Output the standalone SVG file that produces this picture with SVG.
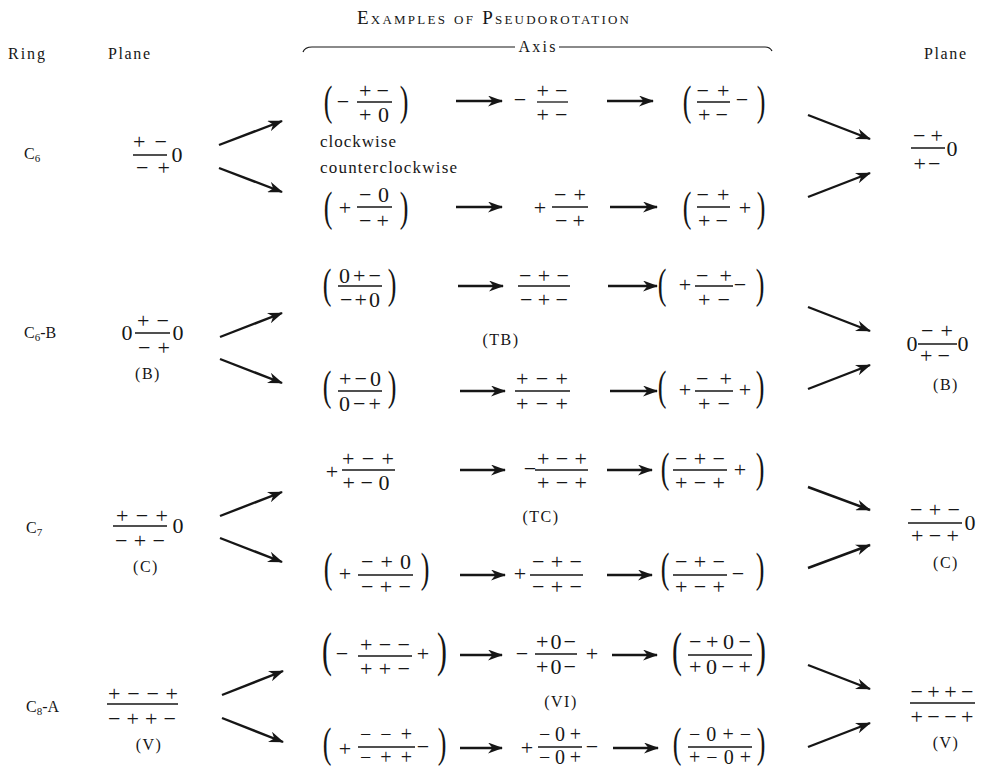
<svg xmlns="http://www.w3.org/2000/svg" width="983" height="769" viewBox="0 0 983 769">
<style>
text{font-family:"Liberation Serif","Times New Roman",serif;fill:#161616}
.s{font-size:22px;text-anchor:middle}
.s2{font-size:20px;text-anchor:middle}
.l{font-size:16px}
.lc{font-size:16px;text-anchor:middle;letter-spacing:1.5px}
.p{font-size:42px;text-anchor:middle}
.pb{font-size:48px;text-anchor:middle}
.bar{stroke:#161616;stroke-width:1.3}
.ar{stroke:#161616;stroke-width:2.4;fill:none;marker-end:url(#ah)}
</style>
<defs>
<marker id="ah" markerUnits="userSpaceOnUse" viewBox="0 0 15 11" refX="14" refY="5.5" markerWidth="15" markerHeight="11" orient="auto">
<path d="M0,0 L15,5.5 L0,11 L4.5,5.5 z" fill="#161616"/>
</marker>
</defs>
<rect width="983" height="769" fill="#fff"/>

<g id="header">
<text x="493" y="24" style="font-size:19px;font-variant:small-caps;text-anchor:middle" textLength="272">Examples of Pseudorotation</text>
<text class="l" x="8" y="59" textLength="37">Ring</text>
<text class="l" x="108" y="59" textLength="42">Plane</text>
<text class="l" x="924" y="59" textLength="42">Plane</text>
<path d="M303,52 Q305,47 312,47 L515,47 M559,47 L765,47 Q770,47 772,51" fill="none" stroke="#161616" stroke-width="1.2"/>
<text x="537" y="52" style="font-size:16px;text-anchor:middle" textLength="37">Axis</text>
</g>

<g id="connectors">
<line class="ar" x1="219" y1="145" x2="282" y2="121"/>
<line class="ar" x1="219" y1="168" x2="282" y2="192"/>
<line class="ar" x1="456" y1="101" x2="502" y2="101"/>
<line class="ar" x1="607" y1="101" x2="653" y2="101"/>
<line class="ar" x1="456" y1="207" x2="502" y2="207"/>
<line class="ar" x1="610" y1="207" x2="657" y2="207"/>
<line class="ar" x1="808" y1="115" x2="870" y2="139"/>
<line class="ar" x1="808" y1="197" x2="870" y2="173"/>
<line class="ar" x1="220" y1="337" x2="282" y2="313"/>
<line class="ar" x1="220" y1="359" x2="282" y2="383"/>
<line class="ar" x1="458" y1="286" x2="503" y2="286"/>
<line class="ar" x1="608" y1="286" x2="657" y2="286"/>
<line class="ar" x1="460" y1="391" x2="505" y2="391"/>
<line class="ar" x1="610" y1="391" x2="657" y2="391"/>
<line class="ar" x1="808" y1="307" x2="870" y2="331"/>
<line class="ar" x1="808" y1="389" x2="870" y2="365"/>
<line class="ar" x1="220" y1="516" x2="282" y2="492"/>
<line class="ar" x1="220" y1="538" x2="282" y2="562"/>
<line class="ar" x1="460" y1="470" x2="505" y2="470"/>
<line class="ar" x1="607" y1="470" x2="652" y2="470"/>
<line class="ar" x1="460" y1="575" x2="505" y2="575"/>
<line class="ar" x1="607" y1="575" x2="652" y2="575"/>
<line class="ar" x1="808" y1="487" x2="870" y2="510"/>
<line class="ar" x1="808" y1="568" x2="870" y2="545"/>
<line class="ar" x1="222" y1="695" x2="283" y2="671"/>
<line class="ar" x1="222" y1="718" x2="283" y2="742"/>
<line class="ar" x1="460" y1="655" x2="502" y2="655"/>
<line class="ar" x1="612" y1="655" x2="657" y2="655"/>
<line class="ar" x1="460" y1="748" x2="502" y2="748"/>
<line class="ar" x1="613" y1="748" x2="658" y2="748"/>
<line class="ar" x1="808" y1="665" x2="870" y2="689"/>
<line class="ar" x1="808" y1="747" x2="870" y2="723"/>
</g>

<!-- ================= C6 ================= -->
<g id="ring-c6"><text class="l" x="24" y="159">C<tspan font-size="11" dy="3">6</tspan></text></g>
<g id="c6-plane">
<text class="s" x="150" y="149" textLength="34">+−</text>
<line class="bar" x1="133" y1="155" x2="167" y2="155"/>
<text class="s" x="153" y="175" textLength="34">−+</text>
<text class="s" x="177" y="162">0</text>
</g>
<g id="c6-up-1">
<text class="p" transform="translate(328 115) scale(0.62 1)">(</text>
<text class="s" x="343" y="109">−</text>
<text class="s" x="374" y="98" textLength="30">+−</text>
<line class="bar" x1="357" y1="102" x2="392" y2="102"/>
<text class="s" x="374" y="122" textLength="30">+0</text>
<text class="p" transform="translate(404 115) scale(0.62 1)">)</text>
</g>
<g id="c6-up-2">
<text class="s" x="520" y="107">−</text>
<text class="s" x="552" y="98" textLength="31">+−</text>
<line class="bar" x1="537" y1="102" x2="568" y2="102"/>
<text class="s" x="552" y="122" textLength="31">+−</text>
</g>
<g id="c6-up-3">
<text class="p" transform="translate(687 115) scale(0.62 1)">(</text>
<text class="s" x="713" y="98" textLength="33">−+</text>
<line class="bar" x1="697" y1="102" x2="730" y2="102"/>
<text class="s" x="713" y="122" textLength="30">+−</text>
<text class="s" x="742" y="107">−</text>
<text class="p" transform="translate(761 115) scale(0.62 1)">)</text>
</g>
<g id="c6-labels">
<text x="320" y="147" style="font-size:17px" textLength="76">clockwise</text>
<text x="320" y="173" style="font-size:17px" textLength="137">counterclockwise</text>
</g>
<g id="c6-down-1">
<text class="p" transform="translate(328 221) scale(0.62 1)">(</text>
<text class="s" x="345" y="215">+</text>
<text class="s" x="374" y="202" textLength="30">−0</text>
<line class="bar" x1="357" y1="207" x2="392" y2="207"/>
<text class="s" x="374" y="228" textLength="30">−+</text>
<text class="p" transform="translate(404 221) scale(0.62 1)">)</text>
</g>
<g id="c6-down-2">
<text class="s" x="540" y="215">+</text>
<text class="s" x="570" y="202" textLength="32">−+</text>
<line class="bar" x1="552" y1="207" x2="588" y2="207"/>
<text class="s" x="570" y="228" textLength="30">−+</text>
</g>
<g id="c6-down-3">
<text class="p" transform="translate(687 221) scale(0.62 1)">(</text>
<text class="s" x="713" y="202" textLength="33">−+</text>
<line class="bar" x1="697" y1="207" x2="730" y2="207"/>
<text class="s" x="713" y="228" textLength="30">+−</text>
<text class="s" x="745" y="215">+</text>
<text class="p" transform="translate(761 221) scale(0.62 1)">)</text>
</g>
<g id="c6-plane-right">
<text class="s" x="928" y="143" textLength="30">−+</text>
<line class="bar" x1="911" y1="148" x2="945" y2="148"/>
<text class="s" x="927" y="171" textLength="27">+−</text>
<text class="s" x="952" y="156">0</text>
</g>

<!-- ================= C6-B ================= -->
<g id="ring-c6b"><text class="l" x="24" y="338">C<tspan font-size="11" dy="3">6</tspan><tspan dy="-3">-B</tspan></text></g>
<g id="c6b-plane">
<text class="s" x="127" y="340">0</text>
<text class="s" x="153" y="328" textLength="32">+−</text>
<line class="bar" x1="135" y1="333" x2="170" y2="333"/>
<text class="s" x="154" y="355" textLength="32">−+</text>
<text class="s" x="178" y="340">0</text>
<text class="lc" x="148" y="379">(B)</text>
</g>
<g id="c6b-up-1">
<text class="p" transform="translate(327 298) scale(0.62 1)">(</text>
<text class="s" x="360" y="283" textLength="42">0+−</text>
<line class="bar" x1="338" y1="286" x2="382" y2="286"/>
<text class="s" x="360" y="307" textLength="40">−+0</text>
<text class="p" transform="translate(392 298) scale(0.62 1)">)</text>
</g>
<g id="c6b-up-2">
<text class="s" x="544" y="283" textLength="50">−+−</text>
<line class="bar" x1="518" y1="286" x2="570" y2="286"/>
<text class="s" x="544" y="307" textLength="48">−+−</text>
</g>
<g id="c6b-up-3">
<text class="p" transform="translate(662 298) scale(0.62 1)">(</text>
<text class="s" x="685" y="292">+</text>
<text class="s" x="714" y="283" textLength="36">−+</text>
<line class="bar" x1="695" y1="286" x2="733" y2="286"/>
<text class="s" x="714" y="307" textLength="32">+−</text>
<text class="s" x="740" y="292">−</text>
<text class="p" transform="translate(760 298) scale(0.62 1)">)</text>
</g>
<g id="c6b-tb"><text class="lc" x="501" y="345">(TB)</text></g>
<g id="c6b-down-1">
<text class="p" transform="translate(327 400) scale(0.62 1)">(</text>
<text class="s" x="360" y="386" textLength="42">+−0</text>
<line class="bar" x1="338" y1="391" x2="382" y2="391"/>
<text class="s" x="360" y="411" textLength="42">0−+</text>
<text class="p" transform="translate(392 400) scale(0.62 1)">)</text>
</g>
<g id="c6b-down-2">
<text class="s" x="542" y="386" textLength="52">+−+</text>
<line class="bar" x1="515" y1="391" x2="570" y2="391"/>
<text class="s" x="542" y="411" textLength="52">+−+</text>
</g>
<g id="c6b-down-3">
<text class="p" transform="translate(662 400) scale(0.62 1)">(</text>
<text class="s" x="685" y="397">+</text>
<text class="s" x="714" y="386" textLength="36">−+</text>
<line class="bar" x1="695" y1="391" x2="733" y2="391"/>
<text class="s" x="714" y="411" textLength="32">+−</text>
<text class="s" x="745" y="397">+</text>
<text class="p" transform="translate(760 400) scale(0.62 1)">)</text>
</g>
<g id="c6b-plane-right">
<text class="s" x="912" y="351">0</text>
<text class="s" x="937" y="338" textLength="32">−+</text>
<line class="bar" x1="918" y1="344" x2="957" y2="344"/>
<text class="s" x="935" y="363" textLength="30">+−</text>
<text class="s" x="963" y="351">0</text>
<text class="lc" x="946" y="390">(B)</text>
</g>

<!-- ================= C7 ================= -->
<g id="ring-c7"><text class="l" x="26" y="533">C<tspan font-size="11" dy="3">7</tspan></text></g>
<g id="c7-plane">
<text class="s" x="142" y="523" textLength="52">+−+</text>
<line class="bar" x1="113" y1="526" x2="167" y2="526"/>
<text class="s" x="140" y="548" textLength="50">−+−</text>
<text class="s" x="178" y="533">0</text>
<text class="lc" x="146" y="572">(C)</text>
</g>
<g id="c7-up-1">
<text class="s" x="332" y="479">+</text>
<text class="s" x="368" y="466" textLength="52">+−+</text>
<line class="bar" x1="342" y1="470" x2="395" y2="470"/>
<text class="s" x="366" y="490" textLength="47">+−0</text>
</g>
<g id="c7-up-2">
<text class="s" x="530" y="476">−</text>
<text class="s" x="562" y="466" textLength="50">+−+</text>
<line class="bar" x1="535" y1="470" x2="588" y2="470"/>
<text class="s" x="562" y="490" textLength="50">+−+</text>
</g>
<g id="c7-up-3">
<text class="p" transform="translate(665 482) scale(0.62 1)">(</text>
<text class="s" x="700" y="466" textLength="50">−+−</text>
<line class="bar" x1="673" y1="470" x2="727" y2="470"/>
<text class="s" x="700" y="490" textLength="50">+−+</text>
<text class="s" x="740" y="477">+</text>
<text class="p" transform="translate(760 482) scale(0.62 1)">)</text>
</g>
<g id="c7-tc"><text class="lc" x="541" y="522">(TC)</text></g>
<g id="c7-down-1">
<text class="p" transform="translate(328 582) scale(0.62 1)">(</text>
<text class="s" x="345" y="581">+</text>
<text class="s" x="386" y="569" textLength="50">−+0</text>
<line class="bar" x1="358" y1="575" x2="413" y2="575"/>
<text class="s" x="386" y="594" textLength="50">−+−</text>
<text class="p" transform="translate(425 582) scale(0.62 1)">)</text>
</g>
<g id="c7-down-2">
<text class="s" x="520" y="581">+</text>
<text class="s" x="557" y="569" textLength="50">−+−</text>
<line class="bar" x1="530" y1="575" x2="583" y2="575"/>
<text class="s" x="557" y="594" textLength="50">−+−</text>
</g>
<g id="c7-down-3">
<text class="p" transform="translate(665 582) scale(0.62 1)">(</text>
<text class="s" x="700" y="569" textLength="50">−+−</text>
<line class="bar" x1="673" y1="575" x2="727" y2="575"/>
<text class="s" x="700" y="594" textLength="50">+−+</text>
<text class="s" x="738" y="581">−</text>
<text class="p" transform="translate(760 582) scale(0.62 1)">)</text>
</g>
<g id="c7-plane-right">
<text class="s" x="935" y="517" textLength="50">−+−</text>
<line class="bar" x1="908" y1="523" x2="962" y2="523"/>
<text class="s" x="935" y="543" textLength="48">+−+</text>
<text class="s" x="970" y="530">0</text>
<text class="lc" x="946" y="568">(C)</text>
</g>

<!-- ================= C8-A ================= -->
<g id="ring-c8a"><text class="l" x="26" y="712">C<tspan font-size="11" dy="3">8</tspan><tspan dy="-3">-A</tspan></text></g>
<g id="c8a-plane">
<text class="s" x="143" y="701" textLength="70">+−−+</text>
<line class="bar" x1="107" y1="704" x2="178" y2="704"/>
<text class="s" x="142" y="726" textLength="68">−++−</text>
<text class="lc" x="149" y="750">(V)</text>
</g>
<g id="c8a-up-1">
<text class="pb" transform="translate(327 666) scale(0.62 1)">(</text>
<text class="s" x="342" y="661">−</text>
<text class="s" x="385" y="652" textLength="50">+−−</text>
<line class="bar" x1="358" y1="656" x2="412" y2="656"/>
<text class="s" x="385" y="676" textLength="50">++−</text>
<text class="s" x="423" y="661">+</text>
<text class="pb" transform="translate(442 666) scale(0.62 1)">)</text>
</g>
<g id="c8a-up-2">
<text class="s" x="522" y="661">−</text>
<text class="s" x="556" y="649" textLength="40">+0−</text>
<line class="bar" x1="535" y1="654" x2="577" y2="654"/>
<text class="s" x="556" y="674" textLength="40">+0−</text>
<text class="s" x="592" y="661">+</text>
</g>
<g id="c8a-up-3">
<text class="pb" transform="translate(677 666) scale(0.62 1)">(</text>
<text class="s" x="720" y="649" textLength="62">−+0−</text>
<line class="bar" x1="688" y1="655" x2="752" y2="655"/>
<text class="s" x="720" y="674" textLength="62">+0−+</text>
<text class="pb" transform="translate(761 666) scale(0.62 1)">)</text>
</g>
<g id="c8a-vi"><text class="lc" x="561" y="707">(VI)</text></g>
<g id="c8a-down-1">
<text class="p" transform="translate(327 757) scale(0.62 1)">(</text>
<text class="s" x="345" y="756">+</text>
<text class="s2" x="386" y="741" textLength="52">−−+</text>
<line class="bar" x1="358" y1="747" x2="415" y2="747"/>
<text class="s2" x="386" y="764" textLength="52">−++</text>
<text class="s" x="423" y="754">−</text>
<text class="p" transform="translate(442 757) scale(0.62 1)">)</text>
</g>
<g id="c8a-down-2">
<text class="s" x="527" y="755">+</text>
<text class="s2" x="560" y="741" textLength="42">−0+</text>
<line class="bar" x1="538" y1="747" x2="582" y2="747"/>
<text class="s2" x="560" y="764" textLength="42">−0+</text>
<text class="s" x="592" y="754">−</text>
</g>
<g id="c8a-down-3">
<text class="p" transform="translate(677 757) scale(0.62 1)">(</text>
<text class="s2" x="720" y="741" textLength="62">−0+−</text>
<line class="bar" x1="688" y1="747" x2="752" y2="747"/>
<text class="s2" x="720" y="764" textLength="62">+−0+</text>
<text class="p" transform="translate(761 757) scale(0.62 1)">)</text>
</g>
<g id="c8a-plane-right">
<text class="s" x="942" y="699" textLength="63">−++−</text>
<line class="bar" x1="910" y1="703" x2="975" y2="703"/>
<text class="s" x="942" y="724" textLength="63">+−−+</text>
<text class="lc" x="946" y="748">(V)</text>
</g>
</svg>
